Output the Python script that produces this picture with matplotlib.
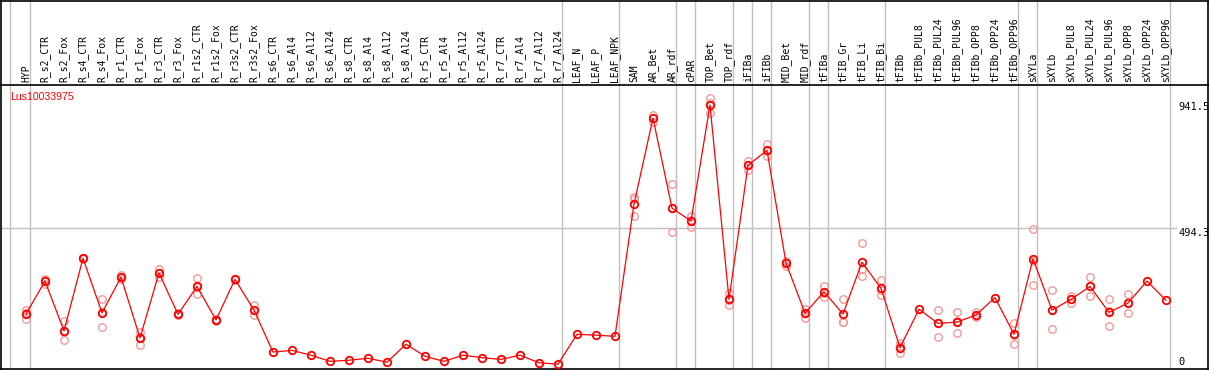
import numpy as np
import matplotlib
matplotlib.use("Agg")
import matplotlib.pyplot as plt

# sample names, in plotting order
samples = [
    "HYP",
    "R_s2_CTR", "R_s2_Fox", "R_s4_CTR", "R_s4_Fox", "R_r1_CTR", "R_r1_Fox",
    "R_r3_CTR", "R_r3_Fox", "R_r1s2_CTR", "R_r1s2_Fox", "R_r3s2_CTR", "R_r3s2_Fox",
    "R_s6_CTR", "R_s6_Al4", "R_s6_Al12", "R_s6_Al24",
    "R_s8_CTR", "R_s8_Al4", "R_s8_Al12", "R_s8_Al24",
    "R_r5_CTR", "R_r5_Al4", "R_r5_Al12", "R_r5_Al24",
    "R_r7_CTR", "R_r7_Al4", "R_r7_Al12", "R_r7_Al24",
    "LEAF_N", "LEAF_P", "LEAF_NPK",
    "SAM", "AR_Bet", "AR_rdf",
    "cPAR",
    "TOP_Bet", "TOP_rdf",
    "iFIBa",
    "iFIBb",
    "MID_Bet", "MID_rdf",
    "tFIBa",
    "tFIB_Gr", "tFIB_Li", "tFIB_Bi",
    "tFIBb", "tFIBb_PUL8", "tFIBb_PUL24", "tFIBb_PUL96",
    "tFIBb_OPP8", "tFIBb_OPP24", "tFIBb_OPP96",
    "sXYLa",
    "sXYLb", "sXYLb_PUL8", "sXYLb_PUL24", "sXYLb_PUL96",
    "sXYLb_OPP8", "sXYLb_OPP24", "sXYLb_OPP96",
]
# number of samples in each separated group
group_sizes = [1, 28, 3, 3, 1, 2, 1, 1, 2, 1, 3, 7, 1, 7]

# mean expression
means = [
    188,
    305, 128, 386, 192, 319, 103, 334, 187, 286, 167, 311, 202,
    53, 59, 42, 20,
    24, 31, 17, 81,
    38, 20, 42, 33,
    27, 42, 15, 10,
    116, 113, 109,
    578, 883, 564,
    518,
    930, 240,
    716,
    769,
    369, 191,
    267,
    188, 372, 279,
    69, 205, 155, 159, 185, 246, 116,
    384,
    202, 240, 286, 194, 227, 305, 237,
]

# replicate values (nan where a replicate sits on the mean)
nan = np.nan
rep1 = [
    202,
    311, 164, 388, 240, 327, 124, 347, 190, 317, 169, 313, 221,
    nan, nan, nan, nan, nan, nan, nan, nan, nan, nan, nan, nan, nan, nan, nan, nan,
    nan, nan, nan,
    596, 894, 648,
    536,
    954, 264,
    731,
    792,
    376, 207,
    288,
    242, 441, 308,
    84, nan, 202, 194, 194, nan, 155,
    489,
    272, 252, 319, 240, 259, nan, nan,
]
rep2 = [
    171,
    294, 95, 384, 141, 312, 79, 320, 185, 258, 165, 309, 184,
    nan, nan, nan, nan, nan, nan, nan, nan, nan, nan, nan, nan, nan, nan, nan, nan,
    nan, nan, nan,
    535, 871, 478,
    496,
    900, 219,
    699,
    748,
    360, 174,
    250,
    161, 347, 256,
    49, nan, 108, 120, 179, nan, 81,
    290,
    134, 228, 252, 145, 193, nan, nan,
]
rep3 = [
    190,
    308, 125, 386, 194, 319, 105, 334, 187, 285, 167, 311, 202,
    nan, nan, nan, nan, nan, nan, nan, nan, nan, nan, nan, nan, nan, nan, nan, nan,
    nan, nan, nan,
    602, 883, 566,
    523,
    936, 238,
    717,
    768,
    371, 191,
    264,
    161, 323, 275,
    73, nan, 155, 162, 181, nan, 113,
    375,
    201, 241, 288, 198, 230, nan, nan,
]

gene = "Lus10033975"
y_ticks = [941.5, 494.3, 0]

# pixel layout of the 1209x370 picture
W, H = 1209, 370
x_first, x_step = 26, 19          # px of first sample, px between samples
y_zero, k = 367, 0.28175          # px of value 0, px per unit
grey = "#c0c0c0"


def idx(px):
    return (px - x_first) / x_step


def val(py):
    return (y_zero - py) / k


fig = plt.figure(figsize=(W / 100, H / 100), dpi=100)
head = fig.add_axes([1 / W, 1 - 85 / H, 1207 / W, 84.5 / H])
ax = fig.add_axes([1 / W, 1 - 369 / H, 1207 / W, 284 / H])

for a in (head, ax):
    a.set_xlim(idx(1), idx(1208))
    a.set_xticks([])
    a.set_yticks([])
    for s in a.spines.values():
        s.set_color("black")
        s.set_linewidth(1.2)
head.spines["bottom"].set_visible(False)
head.set_ylim(0, 1)
ax.set_ylim(val(369), val(85))

x = np.arange(len(samples))

# group separators
bounds = [idx(10)] + list(np.cumsum(group_sizes) - 1 + 4 / x_step)
for b in bounds:
    ax.axvline(b, color=grey, lw=1, zorder=0)
    head.axvline(b, color=grey, lw=1, zorder=0)

# grid line at middle level
ax.plot([idx(1), idx(1176)], [y_ticks[1], y_ticks[1]], color=grey, lw=1, zorder=0)

# sample labels
for i, name in enumerate(samples):
    head.text(i, 0.03, name, rotation=90, ha="center", va="bottom",
              family="DejaVu Sans Mono", fontsize=7)

# replicates then means
for r in (rep1, rep2, rep3):
    ax.plot(x, r, ls="none", marker="o", ms=5.4, mfc="none",
            mec="#f29a9a", mew=1.0, zorder=2)
ax.plot(x, means, color="red", lw=0.9, marker="o", ms=5.4, mfc="none",
        mec="red", mew=1.3, zorder=3)

# value labels on the right
for v, va in zip(y_ticks, ["top", "top", "bottom"]):
    ax.text(idx(1178), v, f"{v:g}", ha="left", va=va,
            family="DejaVu Sans Mono", fontsize=7.5)

fig.text(10 / W, 1 - 97 / H, gene, color="red", ha="left", va="center",
         family="Liberation Sans", fontsize=7.6)

fig.savefig("out.png", dpi=100)
